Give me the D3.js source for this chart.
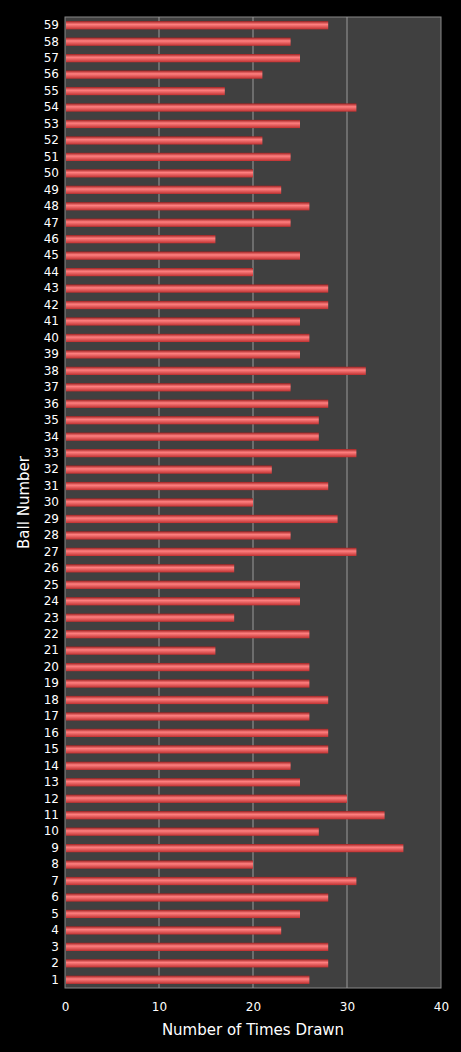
<!DOCTYPE html>
<html><head><meta charset="utf-8">
<script src="https://cdn.jsdelivr.net/npm/d3@7"></script>
<style>body{margin:0;background:#000}</style>
</head><body>
<svg id="chart" width="461" height="1052"></svg>
<script>
var balls = d3.range(1, 60);
var timesDrawn = [26,28,28,23,25,28,31,20,36,27,34,30,25,24,28,28,26,28,26,26,
                  16,26,18,25,25,18,31,24,29,20,28,22,31,27,27,28,24,32,25,26,
                  25,28,28,20,25,16,24,26,23,20,24,21,25,31,17,21,25,24,28];
var xTicks = [0,10,20,30,40];

var svg = d3.select('#chart');
var plotLeft = 65, plotRight = 441, plotTop = 17, plotBottom = 988;

var x = d3.scaleLinear().domain([0,40]).range([plotLeft,plotRight]);
var y = d3.scaleBand().domain(balls.slice().reverse()).range([plotTop,plotBottom]).paddingInner(0.5).paddingOuter(0.25);

var defs = svg.append('defs');
var grad = defs.append('linearGradient').attr('id','barGrad').attr('x1',0).attr('y1',0).attr('x2',0).attr('y2',1);
grad.append('stop').attr('offset','0%').attr('stop-color','#a02020');
grad.append('stop').attr('offset','40%').attr('stop-color','#ff8080');
grad.append('stop').attr('offset','100%').attr('stop-color','#c03030');

svg.append('rect').attr('x',plotLeft).attr('y',plotTop).attr('width',plotRight-plotLeft).attr('height',plotBottom-plotTop)
   .attr('fill','#404040').attr('stroke','#888');

svg.selectAll('.grid').data(xTicks.slice(1,4)).enter().append('line')
   .attr('x1',d=>x(d)).attr('x2',d=>x(d)).attr('y1',plotTop).attr('y2',plotBottom)
   .attr('stroke','#9a9a9a').attr('stroke-width',1);

svg.selectAll('.bar').data(balls).enter().append('rect')
   .attr('x',x(0)+1).attr('y',d=>y(d))
   .attr('width',(d,i)=>x(timesDrawn[i])-x(0)-1).attr('height',y.bandwidth())
   .attr('fill','url(#barGrad)');

var xAxis = svg.append('g').attr('transform','translate(0,'+plotBottom+')')
   .call(d3.axisBottom(x).tickValues(xTicks).tickSize(0).tickPadding(14));
var yAxis = svg.append('g').attr('transform','translate('+plotLeft+',0)')
   .call(d3.axisLeft(y).tickSize(0).tickPadding(6));
[xAxis,yAxis].forEach(function(g){
  g.select('.domain').remove();
  g.selectAll('text').attr('fill','#fff').style('font-family','Verdana, "DejaVu Sans", sans-serif').style('font-size','12px');
});

svg.append('text').attr('x',(plotLeft+plotRight)/2).attr('y',1035).attr('text-anchor','middle')
   .attr('fill','#fff').style('font-family','Verdana, "DejaVu Sans", sans-serif').style('font-size','15px')
   .text('Number of Times Drawn');
svg.append('text').attr('transform','translate(29,'+((plotTop+plotBottom)/2)+') rotate(-90)').attr('text-anchor','middle')
   .attr('fill','#fff').style('font-family','Verdana, "DejaVu Sans", sans-serif').style('font-size','15px')
   .text('Ball Number');
</script>
</body></html>
